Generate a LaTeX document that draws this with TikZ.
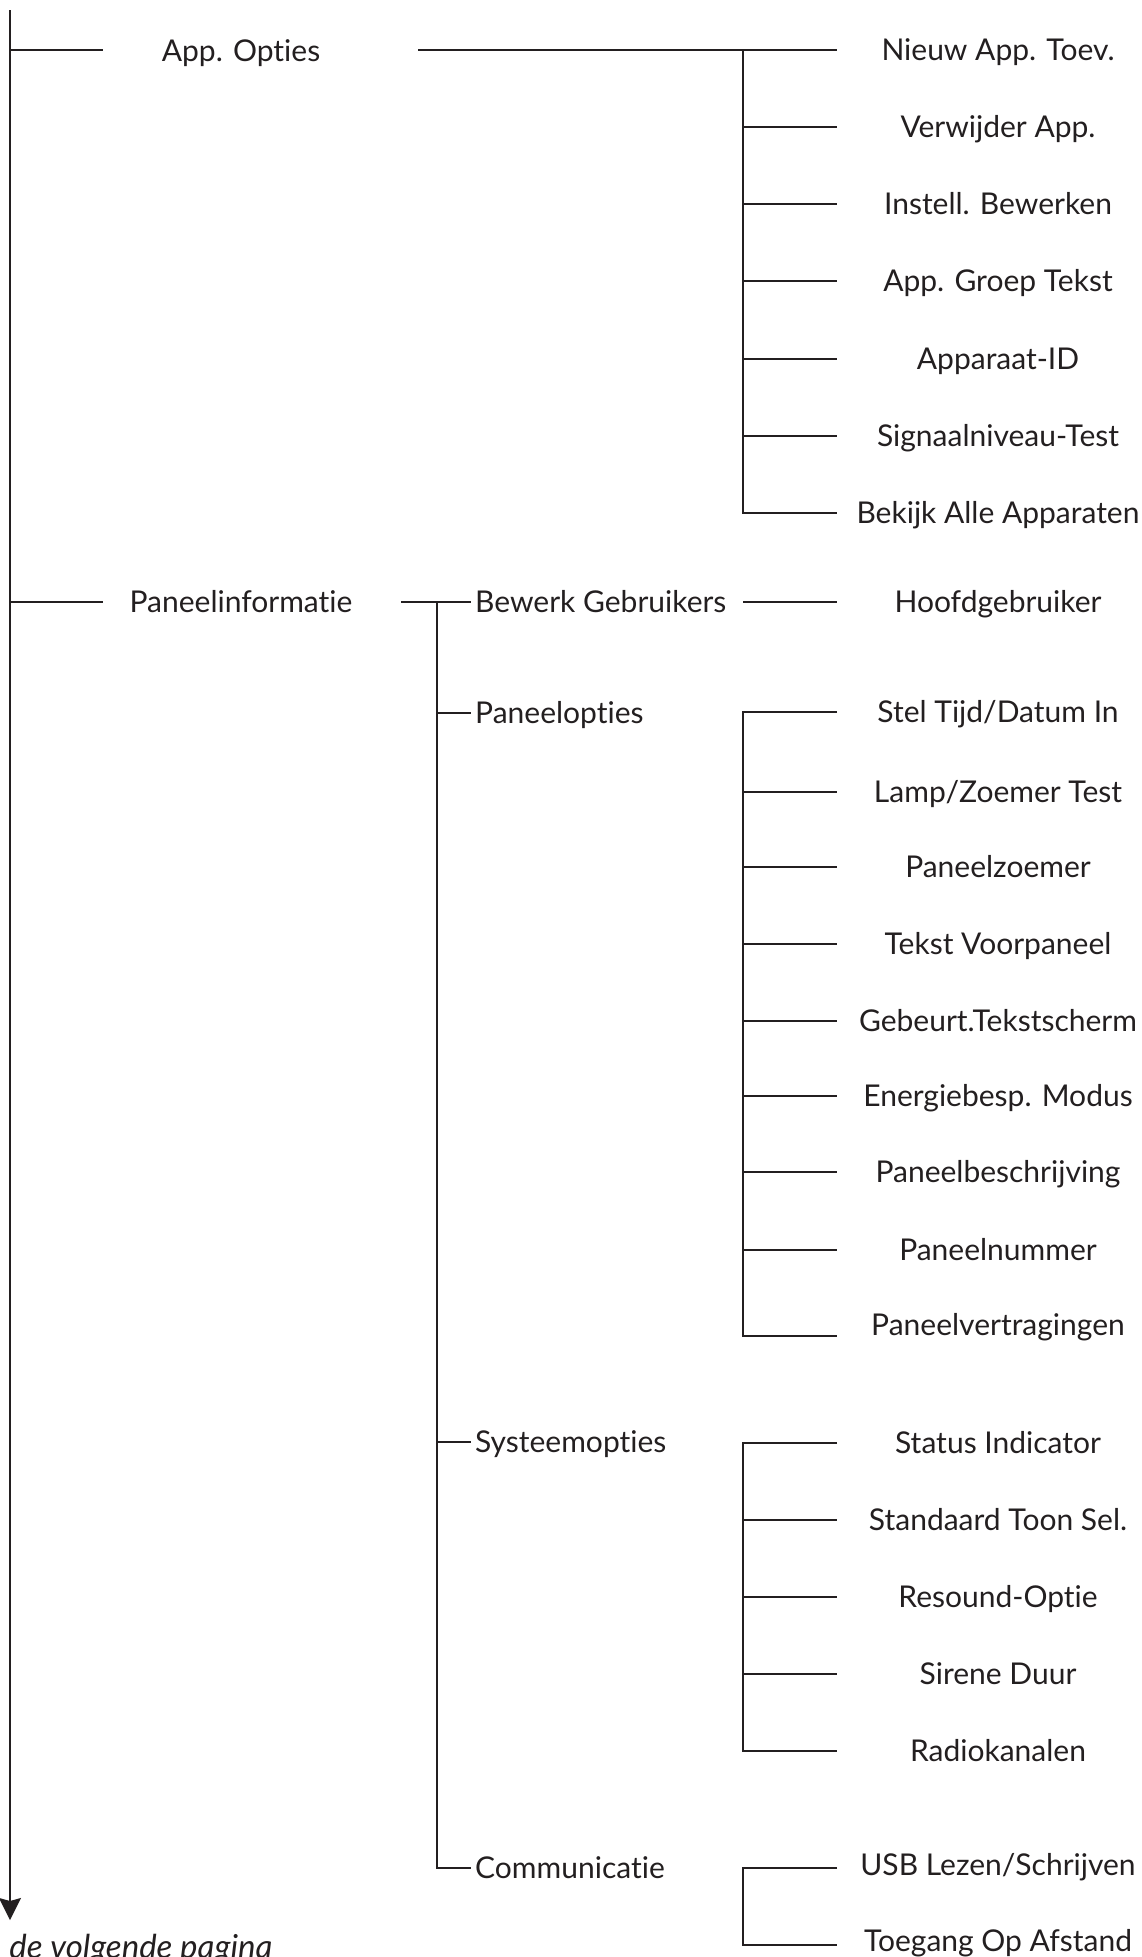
\documentclass[tikz,border=0pt]{standalone}
\usepackage{fontspec}
\setmainfont{Lato}[Ligatures={NoCommon}]
\usetikzlibrary{arrows.meta}
\definecolor{ink}{HTML}{231F20}

\begin{document}
\begin{tikzpicture}[
  x=1pt, y=-1pt,
  item/.style={
    font=\fontsize{30}{36}\selectfont, text=ink, inner sep=0pt,
    text height=21.5pt, text depth=0pt
  },
  sub/.style={item, anchor=west},
  wire/.style={draw=ink, line width=2pt},
  flow/.style={wire, -{Stealth[length=22pt, width=22pt, inset=3pt]}}
]
\clip (0,0) rectangle (1142,1957);

% Column guides
\coordinate (trunk)    at (10,10);
\coordinate (down)     at (10,1920);
\coordinate (lend)     at (103,0);
\coordinate (appsout)  at (418,0);
\coordinate (panelout) at (401,0);
\coordinate (mbus)     at (437,0);
\coordinate (mend)     at (471,0);
\coordinate (rbus)     at (743,0);
\coordinate (rend)     at (837,0);

% Main menu
\node[item] (apps)  at (241,51)  {App. Opties};
\node[item] (panel) at (241,602) {Paneelinformatie};

% App. Opties items
\node[item] (a1) at (998,50)  {Nieuw App. Toev.};
\node[item] (a2) at (998,127) {Verwijder App.};
\node[item] (a3) at (998,204) {Instell. Bewerken};
\node[item] (a4) at (998,281) {App. Groep Tekst};
\node[item] (a5) at (998,359) {Apparaat-ID};
\node[item] (a6) at (998,436) {Signaalniveau-Test};
\node[item] (a7) at (998,513) {Bekijk Alle Apparaten};

% Paneelinformatie submenus
\node[sub] (users) at (475,602)  {Bewerk Gebruikers};
\node[sub] (opts)  at (475,713)  {Paneelopties};
\node[sub] (sys)   at (475,1442) {Systeemopties};
\node[sub] (comm)  at (475,1868) {Communicatie};

\node[item] (master) at (998,602) {Hoofdgebruiker};

% Paneelopties items
\node[item] (p1) at (998,712)  {Stel Tijd/Datum In};
\node[item] (p2) at (998,792)  {Lamp/Zoemer Test};
\node[item] (p3) at (998,867)  {Paneelzoemer};
\node[item] (p4) at (998,944)  {Tekst Voorpaneel};
\node[item] (p5) at (998,1021) {Gebeurt.Tekstscherm};
\node[item] (p6) at (998,1096) {Energiebesp. Modus};
\node[item] (p7) at (998,1172) {Paneelbeschrijving};
\node[item] (p8) at (998,1250) {Paneelnummer};
\node[item] (p9) at (998,1325) {Paneelvertragingen};
\coordinate (p9wire) at (998,1336);

% Systeemopties items
\node[item] (s1) at (998,1443) {Status Indicator};
\node[item] (s2) at (998,1520) {Standaard Toon Sel.};
\node[item] (s3) at (998,1597) {Resound-Optie};
\node[item] (s4) at (998,1674) {Sirene Duur};
\node[item] (s5) at (998,1751) {Radiokanalen};

% Communicatie items
\node[item] (c1) at (998,1865) {USB Lezen/Schrijven};
\node[item] (c2) at (998,1941) {Toegang Op Afstand};
\coordinate (c1wire) at (998,1868);
\coordinate (c2wire) at (998,1945);

% Trunk
\draw[flow] (trunk) -- (down);
\draw[wire] (trunk |- a1)    -- (lend |- a1);
\draw[wire] (trunk |- panel) -- (lend |- panel);

% App. Opties branch
\draw[wire] (appsout |- a1) -- (rend |- a1);
\draw[wire] (rbus |- a1) -- (rbus |- a7) -- (rend |- a7);
\foreach \n in {a2,a3,a4,a5,a6}
  \draw[wire] (rbus |- \n) -- (rend |- \n);

% Paneelinformatie branch
\draw[wire] (panelout |- panel) -- (mend |- users);
\draw[wire] (mbus |- users) -- (mbus |- comm) -- (mend |- comm);
\draw[wire] (mbus |- opts) -- (mend |- opts);
\draw[wire] (mbus |- sys)  -- (mend |- sys);
\draw[wire] (rbus |- master) -- (rend |- master);

% Paneelopties group
\draw[wire] (rend |- p1) -- (rbus |- p1) -- (rbus |- p9wire) -- (rend |- p9wire);
\foreach \n in {p2,p3,p4,p5,p6,p7,p8}
  \draw[wire] (rbus |- \n) -- (rend |- \n);

% Systeemopties group
\draw[wire] (rend |- s1) -- (rbus |- s1) -- (rbus |- s5) -- (rend |- s5);
\foreach \n in {s2,s3,s4}
  \draw[wire] (rbus |- \n) -- (rend |- \n);

% Communicatie group
\draw[wire] (rend |- c1wire) -- (rbus |- c1wire) -- (rbus |- c2wire) -- (rend |- c2wire);

% Page note
\node[item, font=\fontsize{33}{40}\selectfont\itshape, anchor=base west]
  (note) at (-16,1958) {n de volgende pagina};

\end{tikzpicture}
\end{document}
